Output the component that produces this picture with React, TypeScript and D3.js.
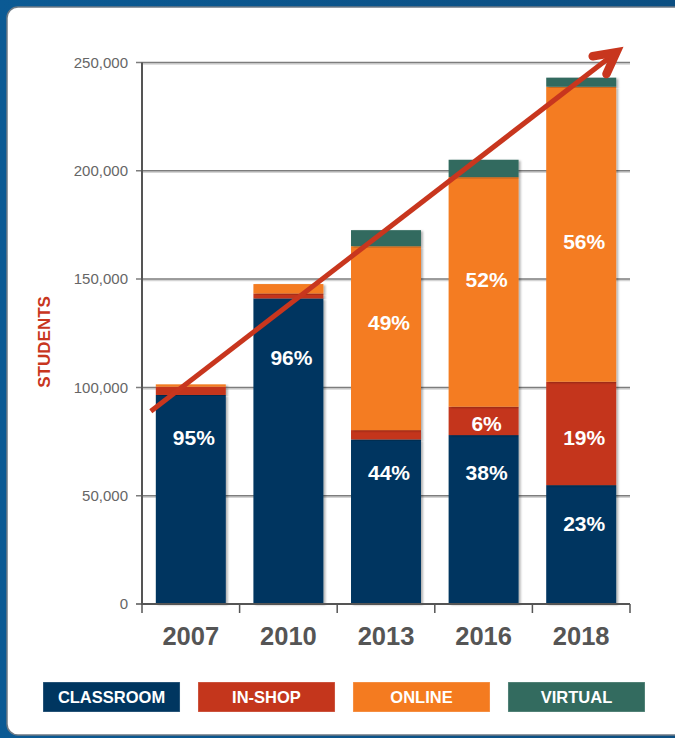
import React from 'react';
import * as d3 from 'd3';

const years = ['2007', '2010', '2013', '2016', '2018'];
const seriesNames = ['CLASSROOM', 'IN-SHOP', 'ONLINE', 'VIRTUAL'];
const classroom = [96500, 141100, 76000, 78000, 54900];
const inShop = [3800, 2300, 4300, 13100, 47700];
const online = [1100, 4300, 84900, 106000, 136200];
const virtual = [0, 0, 7400, 8000, 4200];
const yTicks = [0, 50000, 100000, 150000, 200000, 250000];

const labelYears = ['2007', '2010', '2013', '2013', '2016', '2016', '2016', '2018', '2018', '2018'];
const labelTexts = ['95%', '96%', '49%', '44%', '52%', '6%', '38%', '56%', '19%', '23%'];
const labelValues = [77100, 114000, 130200, 60900, 150000, 83500, 60900, 167600, 77100, 37400];

const arrowStartValue = 89000;
const arrowEndValue = 257000;

const COLORS = ['#003660', '#c4361c', '#f47b20', '#336b5f'];
const FONT = '"Liberation Sans", Arial, Helvetica, sans-serif';

export default function App() {
  const W = 675;
  const H = 738;
  const x = d3.scaleBand<string>().domain(years).range([142, 630]).paddingInner(0.283).paddingOuter(0.1415);
  const y = d3.scaleLinear().domain([0, 250000]).range([604, 62.5]);
  const step = x.step();
  const bw = x.bandwidth();
  const [x0, x1] = x.range();

  const table = years.map((yr, i) => ({
    year: yr,
    CLASSROOM: classroom[i],
    'IN-SHOP': inShop[i],
    ONLINE: online[i],
    VIRTUAL: virtual[i],
  }));
  const stacked = d3.stack<any>().keys(seriesNames)(table);

  const boundaries = d3.range(years.length + 1).map((i) => x0 + i * step);

  // arrow
  const ax1 = (x('2007') as number) - 5;
  const ay1 = y(arrowStartValue);
  const tipX = (x('2018') as number) + bw + 6.5;
  const tipY = y(arrowEndValue);
  const ang = Math.atan2(tipY - ay1, tipX - ax1);
  const back = ang + Math.PI;
  const apexX = tipX + 8 * Math.cos(back);
  const apexY = tipY + 8 * Math.sin(back);
  const hl = 24;
  const ha = (28 * Math.PI) / 180;
  const w1 = [apexX + hl * Math.cos(back - ha), apexY + hl * Math.sin(back - ha)];
  const w2 = [apexX + hl * Math.cos(back + ha), apexY + hl * Math.sin(back + ha)];

  const legendX = d3.scaleBand<string>().domain(seriesNames).range([43, 645]).paddingInner(0.116).paddingOuter(0);

  return (
    <div style={{ position: 'absolute', left: 0, top: 0, width: W, height: H }}>
      <svg width={W} height={H} style={{ display: 'block' }}>
        <defs>
          <linearGradient id="bg" x1="0" y1="0" x2="1" y2="0">
            <stop offset="0" stopColor="#0b5a94" />
            <stop offset="1" stopColor="#0c4f82" />
          </linearGradient>
          <filter id="shadow" x="-10%" y="-5%" width="130%" height="115%">
            <feDropShadow dx="2" dy="1" stdDeviation="1.2" floodColor="#000" floodOpacity="0.3" />
          </filter>
        </defs>
        <rect x={0} y={0} width={W} height={H} fill="url(#bg)" />
        <rect x={7} y={7} width={W + 20} height={728} rx={11} ry={11} fill="#ffffff" stroke="#6e7a85" strokeWidth={1.5} />

        {/* gridlines */}
        {yTicks.filter((t) => t > 0).map((t) => (
          <g key={'g' + t}>
            <line x1={x0} x2={x1} y1={y(t) + 1.5} y2={y(t) + 1.5} stroke="#d4d4d4" strokeWidth={1.5} />
            <line x1={x0 - 6} x2={x1} y1={y(t)} y2={y(t)} stroke="#7d7d7d" strokeWidth={1.5} />
          </g>
        ))}

        {/* y tick labels */}
        {yTicks.map((t) => (
          <text key={'t' + t} x={128} y={y(t)} dy="0.35em" textAnchor="end" fontFamily={FONT} fontSize={15} fill="#666">
            {d3.format(',')(t)}
          </text>
        ))}

        {/* bars */}
        {stacked.map((s, si) => (
          <g key={s.key} fill={COLORS[si]}>
            {s.map((d, i) =>
              d[1] - d[0] > 0 ? (
                <rect
                  key={i}
                  x={x(years[i])}
                  y={y(d[1])}
                  width={bw}
                  height={y(d[0]) - y(d[1])}
                  filter="url(#shadow)"
                />
              ) : null
            )}
          </g>
        ))}

        {/* axes */}
        <line x1={x0} x2={x0} y1={y(250000)} y2={y(0) + 1} stroke="#555" strokeWidth={2} />
        <line x1={x0 - 6} x2={x0} y1={y(0)} y2={y(0)} stroke="#555" strokeWidth={1.5} />
        <line x1={x0} x2={x1} y1={y(0)} y2={y(0)} stroke="#555" strokeWidth={2} />
        {boundaries.map((b, i) => (
          <line key={'b' + i} x1={b} x2={b} y1={y(0)} y2={y(0) + 9} stroke="#555" strokeWidth={1.5} />
        ))}

        {/* year labels */}
        {years.map((yr) => (
          <text key={'y' + yr} x={(x(yr) as number) + bw / 2} y={645} textAnchor="middle" fontFamily={FONT} fontWeight="bold" fontSize={25.5} fill="#555">
            {yr}
          </text>
        ))}

        {/* percent labels */}
        {labelTexts.map((t, i) => (
          <text
            key={'p' + i}
            x={(x(labelYears[i]) as number) + bw / 2 + 3}
            y={y(labelValues[i])}
            dy="0.36em"
            textAnchor="middle"
            fontFamily={FONT}
            fontWeight="bold"
            fontSize={21}
            fill="#ffffff"
          >
            {t}
          </text>
        ))}

        {/* arrow */}
        <line x1={ax1} y1={ay1} x2={apexX} y2={apexY} stroke="#c8361e" strokeWidth={5} />
        <polyline
          points={`${w1[0]},${w1[1]} ${apexX},${apexY} ${w2[0]},${w2[1]}`}
          fill="none"
          stroke="#c8361e"
          strokeWidth={8.5}
          strokeLinecap="round"
          strokeLinejoin="miter"
          strokeMiterlimit={10}
        />

        {/* y axis title */}
        <text
          transform={`translate(50, ${y(121000)}) rotate(-90)`}
          textAnchor="middle"
          fontFamily={FONT}
          fontWeight="bold"
          fontSize={17}
          fill="#c8361e"
        >
          STUDENTS
        </text>

        {/* legend */}
        {seriesNames.map((n, i) => (
          <g key={'l' + n}>
            <rect x={legendX(n)} y={682} width={legendX.bandwidth()} height={30} fill={COLORS[i]} stroke="#ffffff" strokeOpacity={0.3} strokeWidth={1} />
            <text x={(legendX(n) as number) + legendX.bandwidth() / 2} y={697} dy="0.36em" textAnchor="middle" fontFamily={FONT} fontWeight="bold" fontSize={16.5} fill="#ffffff">
              {n}
            </text>
          </g>
        ))}
      </svg>
    </div>
  );
}
